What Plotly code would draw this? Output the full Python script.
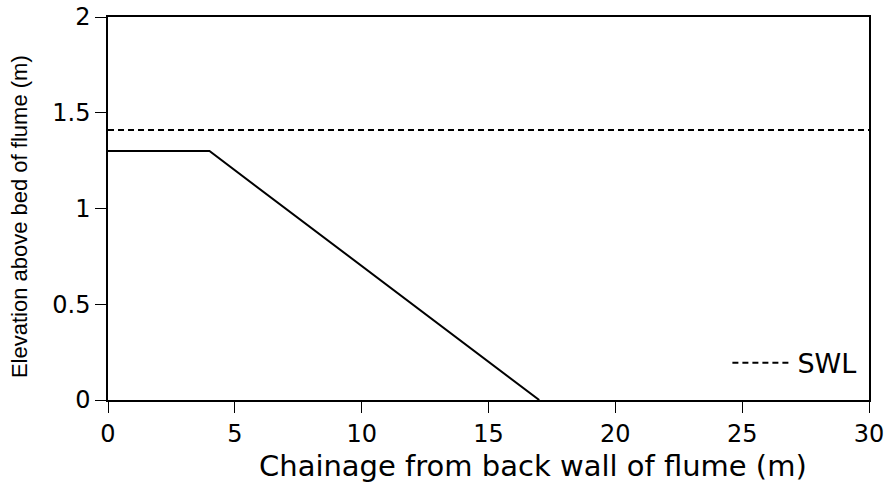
import plotly.graph_objects as go

# Data
profile_x = [0, 4, 17]
profile_y = [1.30, 1.30, 0.0]
swl_x = [0, 30]
swl_y = [1.41, 1.41]

x_ticks = [0, 5, 10, 15, 20, 25, 30]
y_ticks = [0, 0.5, 1, 1.5, 2]
y_ticklabels = ["0", "0.5", "1", "1.5", "2"]

x_title = "Chainage from back wall of flume (m)"
y_title = "Elevation above bed of flume (m)"

fig = go.Figure()
fig.add_trace(go.Scatter(x=profile_x, y=profile_y, mode="lines",
                         line=dict(color="black", width=2), showlegend=False))
fig.add_trace(go.Scatter(x=swl_x, y=swl_y, mode="lines", name="SWL",
                         line=dict(color="black", width=2, dash="6px,4px")))

axis_common = dict(showgrid=False, zeroline=False, showline=True, linecolor="black",
                   linewidth=1.5, mirror=True, ticks="outside", ticklen=11,
                   tickwidth=1, tickcolor="black", automargin=False,
                   tickfont=dict(family="DejaVu Sans", size=24, color="black"))

fig.update_xaxes(range=[0, 30], tickvals=x_ticks, **axis_common)
fig.update_yaxes(range=[0, 2], tickvals=y_ticks, ticktext=y_ticklabels, **axis_common)

fig.add_annotation(text=x_title, xref="paper", yref="paper", x=0.558, y=-0.122,
                   xanchor="center", yanchor="top", showarrow=False,
                   font=dict(family="DejaVu Sans", size=29, color="black"))
fig.add_annotation(text=y_title, xref="paper", yref="paper", x=-0.117, y=0.48,
                   xanchor="center", yanchor="middle", showarrow=False, textangle=-90,
                   font=dict(family="Liberation Sans", size=22, color="black"))

fig.update_layout(
    width=894, height=483,
    margin=dict(l=108, r=25, t=17, b=83, autoexpand=False),
    plot_bgcolor="white", paper_bgcolor="white",
    legend=dict(x=0.99, y=0.096, xanchor="right", yanchor="middle",
                bgcolor="rgba(0,0,0,0)", borderwidth=0,
                font=dict(family="DejaVu Sans", size=27, color="black"),
                itemwidth=60),
)

fig.write_html("out.html")
